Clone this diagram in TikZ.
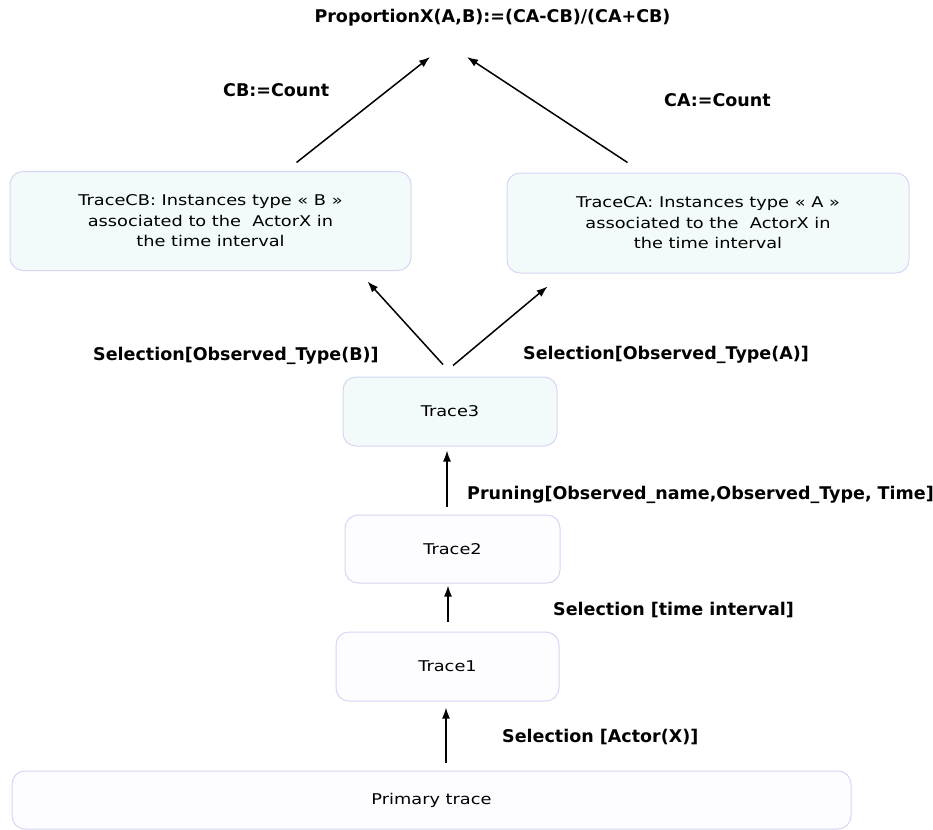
\documentclass[tikz,border=0pt]{standalone}
\usepackage{fontspec}
\setmainfont{DejaVu Sans}
\newfontfamily\boxfont{DejaVu Sans}[FakeStretch=1.2]
\usetikzlibrary{arrows.meta}
\definecolor{boxline}{HTML}{D6D6F4}
\definecolor{boxtint}{HTML}{F2FAFA}
\definecolor{boxwhite}{HTML}{FDFDFF}
\tikzset{
  tracebox/.style={draw=boxline, line width=1pt, rounded corners=13pt,
    inner sep=0pt, align=center, font=\fontsize{14.8}{20.5}\boxfont},
  tinted/.style={tracebox, fill=boxtint},
  plain/.style={tracebox, fill=boxwhite},
  flow/.style={-{Latex[length=11pt,width=8pt]}, line width=1.5pt, black},
  oplabel/.style={font=\fontsize{17.5}{20}\selectfont\bfseries, anchor=west, inner sep=0pt}
}
\begin{document}
\begin{tikzpicture}[x=1pt,y=-1pt]
\useasboundingbox (0,0) rectangle (933,829);

% boxes
\node[tinted, minimum width=401, minimum height=99] (cb) at (210.5,221)
  {TraceCB: Instances type « B »\\ associated to the\ \ ActorX in\\ the time interval};
\node[tinted, minimum width=402, minimum height=100] (ca) at (708,223)
  {TraceCA: Instances type « A »\\ associated to the\ \ ActorX in\\ the time interval};
\node[tinted, minimum width=214, minimum height=69] (t3) at (450,411.5) {Trace3};
\node[plain, minimum width=215, minimum height=68] (t2) at (452.5,549) {Trace2};
\node[plain, minimum width=223, minimum height=69] (t1) at (447.5,666.5) {Trace1};
\node[plain, minimum width=839, minimum height=58] (prim) at (431.5,800) {Primary trace};

% result formula
\node[oplabel, anchor=center] (res) at (492.5,18) {ProportionX(A,B):=(CA-CB)/(CA+CB)};

% operation labels
\node[oplabel] (lcb) at (223,90) {CB:=Count};
\node[oplabel] (lca) at (664,100) {CA:=Count};
\node[oplabel] (lselb) at (93,356) {Selection[Observed\_Type(B)]};
\node[oplabel] (lsela) at (523,355) {Selection[Observed\_Type(A)]};
\node[oplabel] (lprun) at (467,495) {Pruning[Observed\_name,Observed\_Type, Time]};
\node[oplabel] (ltime) at (553,610) {Selection [time interval]};
\node[oplabel] (lactor) at (502,737) {Selection [Actor(X)]};

% connectors
\coordinate (c1) at (446,0);
\coordinate (c2) at (448,0);
\coordinate (c3) at (447,0);
\draw[flow] (prim.north -| c1) ++(0,-8) -- ([yshift=-6pt]t1.south -| c1);
\draw[flow] (t1.north -| c2) ++(0,-10) -- ([yshift=-2pt]t2.south -| c2);
\draw[flow] (t2.north -| c3) ++(0,-8) -- ([yshift=-4pt]t3.south -| c3);
\draw[flow] ([shift={(-7,-12)}]t3.north) -- ([shift={(-44,10.5)}]cb.south east);
\draw[flow] ([shift={(3,-11)}]t3.north) -- ([shift={(41,13)}]ca.south west);
\draw[flow] ([shift={(-115,-8.5)}]cb.north east) -- ([shift={(-62.5,39)}]res.center);
\draw[flow] ([shift={(121,-10)}]ca.north west) -- ([shift={(-25.5,39)}]res.center);
\end{tikzpicture}
\end{document}
